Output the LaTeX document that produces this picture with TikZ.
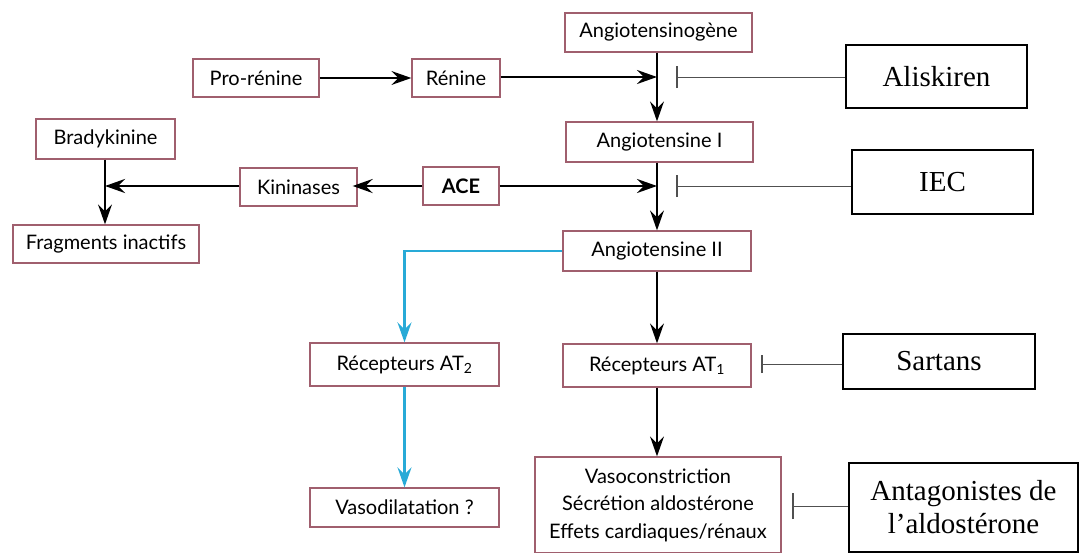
\documentclass[tikz,border=0pt]{standalone}
\usepackage{fontspec}
\setmainfont{Lato}
\newfontfamily\timesf{Liberation Serif}
\usetikzlibrary{arrows.meta,calc}
\definecolor{boxred}{RGB}{160,95,110}
\definecolor{lineblue}{RGB}{40,170,215}
\definecolor{inhgray}{RGB}{80,80,80}
\tikzset{
  sbox/.style={draw=boxred,line width=1.3pt,inner sep=0pt,align=center,
    font=\fontsize{20}{27.5}\selectfont},
  dbox/.style={draw=black,line width=2pt,inner sep=0pt,align=center,
    font=\timesf\fontsize{29}{33}\selectfont},
  tip/.style={-{Stealth[length=20pt,width=14pt,inset=7pt]}},
  thinarr/.style={tip,line width=1.4pt},
  thickarr/.style={tip,line width=2.8pt},
  bluearr/.style={tip,line width=2.8pt,draw=lineblue,color=lineblue},
  inh/.style={line width=1pt,draw=inhgray},
  inhbar/.style={line width=1.3pt,draw=inhgray},
}
\begin{document}
\begin{tikzpicture}[x=1pt,y=-1pt]
\useasboundingbox[fill=white] (0,0) rectangle (1079,552);
% nodes
\node[sbox,minimum width=187pt,minimum height=39pt] (agen) at (658.5,32.5) {Angiotensinogène};
\node[sbox,minimum width=126pt,minimum height=38pt] (pro) at (256,78) {Pro-rénine};
\node[sbox,minimum width=88pt,minimum height=38pt] (ren) at (456,78) {Rénine};
\node[dbox,minimum width=181pt,minimum height=63pt] (ali) at (936.5,76.5) {Aliskiren};
\node[sbox,minimum width=187pt,minimum height=40pt] (ang1) at (659.5,142) {Angiotensine I};
\node[sbox,minimum width=139pt,minimum height=40pt] (brady) at (105.5,139) {Bradykinine};
\node[sbox,minimum width=117pt,minimum height=38pt] (kin) at (298.5,187) {Kininases};
\node[sbox,minimum width=76pt,minimum height=38pt,font=\fontsize{20}{27.5}\selectfont\bfseries] (ace) at (461,186) {ACE};
\node[dbox,minimum width=181pt,minimum height=64pt] (iec) at (942.5,182) {IEC};
\node[sbox,minimum width=186pt,minimum height=38pt] (frag) at (106,244) {Fragments inactifs};
\node[sbox,minimum width=188pt,minimum height=40pt] (ang2) at (657,251) {Angiotensine II};
\node[sbox,minimum width=189pt,minimum height=43pt] (at2) at (404.5,364.5) {Récepteurs AT\textsubscript{2}};
\node[sbox,minimum width=188pt,minimum height=43pt] (at1) at (657,365.5) {Récepteurs AT\textsubscript{1}};
\node[dbox,minimum width=192pt,minimum height=55pt] (sar) at (939,361.5) {Sartans};
\node[sbox,minimum width=189pt,minimum height=39pt] (vaso) at (404.5,507.5) {Vasodilatation ?};
\node[sbox,minimum width=246pt,minimum height=96pt] (eff) at (658,505) {Vasoconstriction\\Sécrétion aldostérone\\Effets cardiaques/rénaux};
\node[dbox,minimum width=229pt,minimum height=89pt] (anta) at (963.5,507) {Antagonistes de\\l’aldostérone};
% junction coordinates
\coordinate (j1) at (657,77);
\coordinate (j2) at (657,186);
\coordinate (kb) at (105,186);
\coordinate (b1) at (677,77);
\coordinate (b2) at (677,186);
\coordinate (b3) at (762,364);
\coordinate (b4) at (793,506);
% main chain
\draw[thinarr] (pro) -- (ren);
\draw[thickarr] (ren.east |- j1) -- (j1);
\draw[thinarr] (agen.south -| j1) -- (ang1.north -| j1);
\draw[thickarr] (ace.east) -- (j2);
\draw[thinarr] (ang1.south -| j2) -- (ang2.north -| j2);
\draw[thickarr] (ace.west) -- ([xshift=-5pt]ace.west -| kin.east);
\draw[thickarr] (kin.west |- kb) -- (kb);
\draw[thinarr] (brady.south -| kb) -- (frag.north -| kb);
\draw[bluearr] (ang2.west) -| (at2.north);
\draw[bluearr] (at2.south) -- (vaso.north);
\draw[thinarr] (ang2.south) -- (at1.north);
\draw[thinarr] (at1.south) -- (eff.north -| at1.south);
% inhibitions
\draw[inhbar] ([yshift=-11pt]b1) -- ([yshift=11pt]b1);
\draw[inh] (b1) -- (b1 -| ali.west);
\draw[inhbar] ([yshift=-11pt]b2) -- ([yshift=11pt]b2);
\draw[inh] (b2) -- (b2 -| iec.west);
\draw[inhbar] ([yshift=-9pt]b3) -- ([yshift=9pt]b3);
\draw[inh] (b3) -- (b3 -| sar.west);
\draw[inhbar] ([yshift=-13pt]b4) -- ([yshift=13pt]b4);
\draw[inh] (b4) -- (b4 -| anta.west);
\end{tikzpicture}
\end{document}
